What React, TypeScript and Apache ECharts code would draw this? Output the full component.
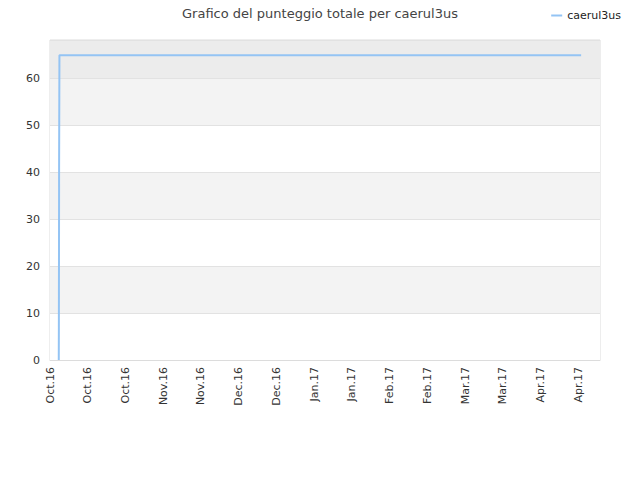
import React, { useEffect, useRef } from 'react';
import * as echarts from 'echarts';

// axis starts on this day; ticks every 14 days
const axisStart = '2016-10-03';
const axisDays = 204;
const tickDays = 14;

const seriesName = 'caerul3us';
const pointDates = [
  '2016-10-06T06:00:00Z',
  '2016-10-06T07:00:00Z',
  '2016-10-06T08:00:00Z',
  '2016-10-06T09:00:00Z',
  '2016-10-06T12:00:00Z',
  '2017-04-18T00:00:00Z',
];
const pointScores = [0, 7, 21, 41, 65, 65];

const monthNames = ['Jan', 'Feb', 'Mar', 'Apr', 'May', 'Jun', 'Jul', 'Aug', 'Sep', 'Oct', 'Nov', 'Dec'];

const DAY = 86400000;
const startMs = Date.parse(axisStart + 'T00:00:00Z');

const dayOffset = (d: string) => (Date.parse(d) - startMs) / DAY;

const formatDay = (v: number) => {
  const d = new Date(startMs + v * DAY);
  return monthNames[d.getUTCMonth()] + '.' + String(d.getUTCFullYear()).slice(2);
};

const App: React.FC = () => {
  const chartRef = useRef<HTMLDivElement>(null);

  useEffect(() => {
    document.body.style.margin = '0';
    if (!chartRef.current) return;
    const chart = echarts.init(chartRef.current, null, { renderer: 'svg' });

    const option: echarts.EChartsOption = {
      animation: false,
      backgroundColor: '#fff',
      textStyle: { fontFamily: 'DejaVu Sans' },
      title: {
        text: 'Grafico del punteggio totale per caerul3us',
        left: 'center',
        top: 2,
        textStyle: { fontSize: 13, fontWeight: 'normal', color: '#444', fontFamily: 'DejaVu Sans' },
      },
      legend: {
        right: 14,
        top: 5,
        itemWidth: 11,
        itemHeight: 2,
        itemGap: 9,
        textStyle: { fontSize: 11, color: '#222', fontFamily: 'DejaVu Sans' },
        data: [{ name: seriesName, icon: 'rect' }],
      },
      grid: {
        left: 50,
        right: 40,
        top: 40,
        bottom: 120,
        show: true,
        borderColor: '#dcdcdc',
        borderWidth: 1,
      },
      xAxis: {
        type: 'value',
        min: 0,
        max: axisDays,
        interval: tickDays,
        axisLine: { show: true, lineStyle: { color: '#dcdcdc' } },
        axisTick: { show: false },
        splitLine: { show: false },
        axisLabel: {
          rotate: 90,
          margin: 7,
          fontSize: 11,
          color: '#333',
          fontFamily: 'DejaVu Sans',
          showMaxLabel: false,
          formatter: (v: number) => formatDay(v),
        },
      },
      yAxis: {
        type: 'value',
        min: 0,
        max: (v: { max: number }) => v.max * 1.05,
        interval: 10,
        axisLine: { show: false },
        axisTick: { show: false },
        axisLabel: {
          margin: 10,
          fontSize: 11,
          color: '#333',
          fontFamily: 'DejaVu Sans',
          showMaxLabel: false,
        },
        splitLine: { show: true, lineStyle: { color: '#e2e2e2' } },
        splitArea: {
          show: true,
          areaStyle: {
            color: ['#ffffff', '#f3f3f3', '#ffffff', '#f3f3f3', '#ffffff', '#f3f3f3', '#ececec'],
          },
        },
      },
      series: [
        {
          name: seriesName,
          type: 'line',
          showSymbol: false,
          symbol: 'none',
          lineStyle: { color: '#94c4f4', width: 2 },
          itemStyle: { color: '#94c4f4' },
          data: pointDates.map((d, i) => [dayOffset(d), pointScores[i]]),
        },
      ],
    };

    chart.setOption(option);
    return () => {
      chart.dispose();
    };
  }, []);

  return <div ref={chartRef} style={{ width: '640px', height: '480px' }} />;
};

export default App;
